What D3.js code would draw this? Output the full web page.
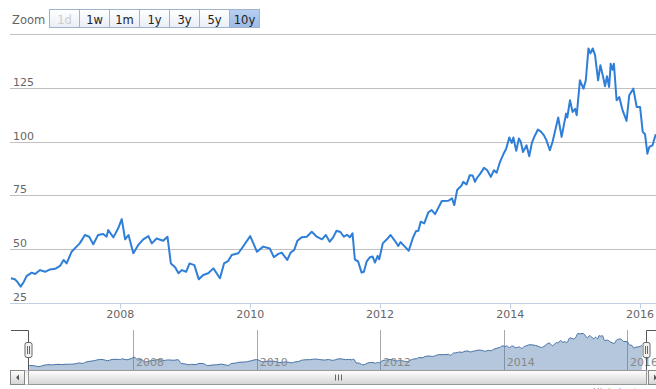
<!DOCTYPE html>
<html><head><meta charset="utf-8">
<script src="https://cdn.jsdelivr.net/npm/d3@7"></script>
<style>body{margin:0;background:#fff;overflow:hidden}svg{display:block;font-family:"DejaVu Sans",Verdana,sans-serif}</style>
</head><body><svg id="c" width="656" height="389"></svg>
<script>
const dates = ["2006-04-27","2006-05-19","2006-06-02","2006-06-21","2006-07-09","2006-07-24","2006-08-22","2006-09-10","2006-10-08","2006-11-05","2006-12-03","2007-01-01","2007-01-28","2007-02-17","2007-03-06","2007-04-03","2007-05-01","2007-05-19","2007-06-17","2007-07-11","2007-08-03","2007-08-30","2007-09-28","2007-10-17","2007-10-26","2007-11-24","2007-12-21","2008-01-10","2008-01-29","2008-02-17","2008-03-15","2008-04-12","2008-05-10","2008-06-08","2008-06-27","2008-07-24","2008-08-30","2008-09-23","2008-10-12","2008-11-05","2008-11-24","2008-12-13","2009-01-06","2009-01-25","2009-02-21","2009-03-18","2009-04-12","2009-05-10","2009-06-08","2009-07-15","2009-08-07","2009-08-31","2009-09-19","2009-10-26","2009-11-24","2010-01-01","2010-02-08","2010-03-15","2010-04-21","2010-05-14","2010-06-08","2010-06-27","2010-07-28","2010-08-16","2010-09-05","2010-09-23","2010-10-17","2010-11-15","2010-12-13","2011-01-10","2011-02-08","2011-03-02","2011-03-24","2011-04-12","2011-05-01","2011-05-23","2011-06-11","2011-06-29","2011-07-15","2011-07-30","2011-08-12","2011-08-31","2011-09-19","2011-10-02","2011-10-17","2011-11-05","2011-11-20","2011-12-03","2011-12-18","2011-12-27","2012-01-16","2012-02-08","2012-02-29","2012-03-24","2012-04-12","2012-04-25","2012-05-19","2012-06-10","2012-07-02","2012-07-20","2012-08-03","2012-08-16","2012-09-05","2012-09-28","2012-10-17","2012-11-05","2012-12-13","2013-01-19","2013-02-08","2013-02-21","2013-03-09","2013-04-03","2013-04-12","2013-05-01","2013-05-19","2013-06-04","2013-06-17","2013-06-29","2013-07-15","2013-08-07","2013-08-25","2013-09-14","2013-10-02","2013-10-17","2013-11-05","2013-11-24","2013-12-09","2013-12-27","2014-01-10","2014-01-19","2014-02-04","2014-02-19","2014-03-02","2014-03-14","2014-04-03","2014-04-18","2014-05-03","2014-05-18","2014-06-06","2014-06-24","2014-07-09","2014-07-24","2014-08-12","2014-08-27","2014-09-28","2014-10-17","2014-11-11","2014-11-18","2014-12-03","2014-12-18","2015-01-01","2015-01-10","2015-01-28","2015-02-17","2015-03-02","2015-03-17","2015-03-28","2015-04-10","2015-04-23","2015-05-10","2015-05-23","2015-06-07","2015-06-18","2015-06-29","2015-07-11","2015-07-20","2015-07-30","2015-08-07","2015-08-22","2015-09-06","2015-09-25","2015-10-17","2015-11-01","2015-11-24","2015-12-13","2016-01-01","2016-01-16","2016-01-29","2016-02-11","2016-02-22","2016-03-11","2016-03-29"];
const values = [36.5,36.0,34.9,32.6,34.9,37.5,39.1,38.5,40.3,39.5,40.6,40.9,42.2,45.0,43.4,48.8,51.2,52.7,56.6,55.8,52.3,56.6,57.1,55.8,58.9,55.5,59.7,64.0,54.6,56.6,48.1,52.0,54.6,56.1,52.7,55.0,53.9,55.8,43.4,41.6,38.8,40.3,39.5,43.4,42.6,36.0,38.0,38.8,41.1,36.5,43.4,44.6,47.3,48.1,51.5,56.1,48.8,51.2,50.3,46.3,47.8,48.4,45.0,48.4,49.6,53.9,55.5,55.8,58.1,55.8,54.6,56.6,53.5,55.5,58.6,58.0,55.8,56.7,55.5,57.4,45.3,44.2,39.1,39.5,44.2,46.3,46.6,43.8,46.9,45.3,52.7,54.6,56.6,53.9,51.5,53.3,51.2,49.3,55.0,58.3,58.6,62.8,62.0,67.1,68.2,66.3,72.4,72.5,73.6,70.5,77.5,79.6,81.3,80.1,84.4,84.3,81.3,83.2,84.9,87.8,86.7,83.6,86.7,85.5,90.6,94.2,96.6,101.9,99.4,101.9,95.7,101.4,99.8,95.2,98.3,93.2,99.4,102.5,105.6,104.5,103.0,100.6,96.0,99.8,111.2,102.2,113.0,111.2,119.2,113.8,115.2,112.3,128.5,124.6,128.5,143.3,141.0,143.3,140.2,128.5,135.5,130.1,125.7,130.4,125.4,136.2,133.4,136.2,119.2,120.7,114.5,109.6,121.5,124.6,116.1,116.1,104.5,103.4,94.4,97.5,98.3,103.4];
const yTicks = [25, 50, 75, 100, 125, 150];
const xTickYears = [2008, 2010, 2012, 2014, 2016];
const zoomButtons = ["1d", "1w", "1m", "1y", "3y", "5y", "10y"];
const selectedButton = "10y";
const disabledButton = "1d";
const viewRange = ["2006-04-22", "2016-04-22"];
const navigatorRange = ["2006-01-09", "2016-04-22"];
const creditText = "Highcharts.com";

const parse = d3.timeParse("%Y-%m-%d");
const data = dates.map((d, i) => ({date: parse(d), value: values[i]}));
const svg = d3.select("#c");
const defs = svg.append("defs");

function grad(id, c1, c2) {
  const g = defs.append("linearGradient").attr("id", id).attr("x1", 0).attr("y1", 0).attr("x2", 0).attr("y2", 1);
  g.append("stop").attr("offset", "0%").attr("stop-color", c1);
  g.append("stop").attr("offset", "100%").attr("stop-color", c2);
}
grad("btn", "#ffffff", "#e9eef6");
grad("btnSel", "#b8cff0", "#9dbbe6");
grad("bar", "#ffffff", "#d4d4d4");
grad("track", "#eeeeee", "#ffffff");

const x = d3.scaleTime().domain(viewRange.map(parse)).range([10, 660]);
const y = d3.scaleLinear().domain([25, 150]).range([303, 34]);

svg.append("g").selectAll("line").data(yTicks).join("line")
  .attr("x1", 10).attr("x2", 656)
  .attr("y1", d => Math.round(y(d)) + 0.5).attr("y2", d => Math.round(y(d)) + 0.5)
  .attr("stroke", "#c0c0c0").attr("stroke-width", 1);

svg.append("g").selectAll("text").data(yTicks.filter(t => t < 150)).join("text")
  .attr("x", 13).attr("y", d => Math.round(y(d)) - 2)
  .attr("font-size", 11).attr("fill", "#666").text(d => d);

const xAxisY = Math.round(y(25)) + 0.5;
svg.append("line").attr("x1", 10).attr("x2", 656).attr("y1", xAxisY).attr("y2", xAxisY)
  .attr("stroke", "#c0d0e0");
const xt = xTickYears.map(yr => new Date(yr, 0, 1));
svg.append("g").selectAll("line").data(xt).join("line")
  .attr("x1", d => Math.round(x(d)) + 0.5).attr("x2", d => Math.round(x(d)) + 0.5)
  .attr("y1", xAxisY).attr("y2", xAxisY + 5).attr("stroke", "#c0d0e0");
svg.append("g").selectAll("text").data(xt).join("text")
  .attr("x", d => x(d)).attr("y", 318).attr("text-anchor", "middle")
  .attr("font-size", 11).attr("fill", "#666").text(d => d3.timeFormat("%Y")(d));

defs.append("clipPath").attr("id", "plotClip").append("rect")
  .attr("x", 10).attr("y", 0).attr("width", 650).attr("height", 304);
svg.append("path").datum(data).attr("clip-path", "url(#plotClip)")
  .attr("fill", "none").attr("stroke", "#2f7ed8").attr("stroke-width", 2)
  .attr("stroke-linejoin", "round")
  .attr("d", d3.line().x(d => x(d.date)).y(d => y(d.value)));

const navTop = 330, navBot = 370;
const nx = d3.scaleTime().domain(navigatorRange.map(parse)).range([11, 646]);
const vmin = d3.min(values), vmax = d3.max(values), pad = (vmax - vmin) * 0.1;
const ny = d3.scaleLinear().domain([vmin - pad, vmax + pad]).range([navBot, navTop]);
svg.append("g").selectAll("line").data(xt).join("line")
  .attr("x1", d => Math.round(nx(d)) + 0.5).attr("x2", d => Math.round(nx(d)) + 0.5)
  .attr("y1", navTop).attr("y2", navBot).attr("stroke", "#a8a8a8");
svg.append("path").datum(data)
  .attr("fill", "#4572a7").attr("fill-opacity", 0.4)
  .attr("d", d3.area().x(d => nx(d.date)).y0(navBot).y1(d => ny(d.value)).curve(d3.curveMonotoneX));
svg.append("path").datum(data)
  .attr("fill", "none").attr("stroke", "#4572a7").attr("stroke-width", 1)
  .attr("d", d3.line().x(d => nx(d.date)).y(d => ny(d.value)).curve(d3.curveMonotoneX));
svg.append("g").selectAll("text").data(xt).join("text")
  .attr("x", d => nx(d) + 3).attr("y", navBot - 4)
  .attr("font-size", 11).attr("fill", "#888").text(d => d3.timeFormat("%Y")(d));

const hL = Math.round(nx(parse(viewRange[0]))) + 0.5;
const hR = Math.round(nx(parse(viewRange[1]))) + 0.5;
svg.append("path")
  .attr("d", `M11,${navTop + 0.5}H${hL}V${navBot + 0.5}H${hR}V${navTop + 0.5}H660`)
  .attr("fill", "none").attr("stroke", "#555").attr("stroke-width", 1);

const sbY = 370.5, sbH = 14;
svg.append("rect").attr("x", 10.5).attr("y", sbY).attr("width", 650).attr("height", sbH)
  .attr("fill", "url(#track)").attr("stroke", "#ccc");
svg.append("rect").attr("x", hL).attr("y", sbY).attr("width", hR - hL).attr("height", sbH)
  .attr("fill", "url(#bar)").attr("stroke", "#999");
const mid = Math.round((hL + hR) / 2) + 0.5;
svg.append("g").selectAll("line").data([-3, 0, 3]).join("line")
  .attr("x1", d => mid + d).attr("x2", d => mid + d).attr("y1", sbY + 4).attr("y2", sbY + 10)
  .attr("stroke", "#666");
[[10.5, -1], [hR + 2, 1]].forEach(([bx, dir]) => {
  svg.append("rect").attr("x", bx).attr("y", sbY).attr("width", 14).attr("height", sbH)
    .attr("fill", "url(#bar)").attr("stroke", "#888");
  const cx = bx + 7, cy = sbY + 7;
  svg.append("path").attr("d", `M${cx - 1.5 * dir},${cy - 3}L${cx - 1.5 * dir},${cy + 3}L${cx + 1.5 * dir},${cy}Z`)
    .attr("fill", "#555");
});
[hL, hR].forEach(hx => {
  const g = svg.append("g");
  g.append("rect").attr("x", hx - 3.5).attr("y", 342.5).attr("width", 7).attr("height", 15).attr("rx", 2)
    .attr("fill", "#f2f2f2").attr("stroke", "#666");
  g.append("line").attr("x1", hx - 1).attr("x2", hx - 1).attr("y1", 346).attr("y2", 354).attr("stroke", "#666");
  g.append("line").attr("x1", hx + 1).attr("x2", hx + 1).attr("y1", 346).attr("y2", 354).attr("stroke", "#666");
});

svg.append("text").attr("x", 12).attr("y", 24).attr("font-size", 11.5).attr("fill", "#666").text("Zoom");
const bw = 30;
const bg = svg.append("g").selectAll("g").data(zoomButtons).join("g")
  .attr("transform", (d, i) => `translate(${49.5 + i * bw},9.5)`);
bg.append("rect").attr("width", bw).attr("height", 18)
  .attr("fill", d => d === selectedButton ? "url(#btnSel)" : "url(#btn)")
  .attr("stroke", "#9fb3cf");
bg.append("text").attr("x", bw / 2).attr("y", 14).attr("text-anchor", "middle")
  .attr("font-size", 11.5).attr("fill", d => d === disabledButton ? "#cccccc" : "#222").text(d => d);

svg.append("text").attr("x", 593).attr("y", 395).attr("font-size", 9).attr("fill", "#909090").text(creditText);
</script></body></html>
